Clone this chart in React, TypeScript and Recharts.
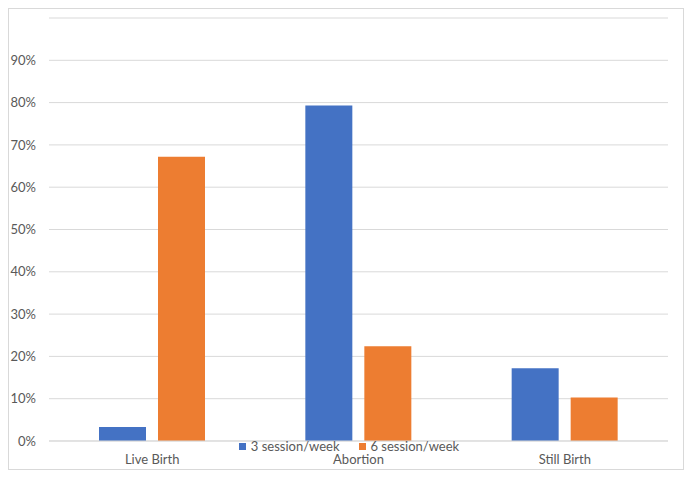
import { BarChart, Bar, XAxis, YAxis, CartesianGrid, Legend } from "recharts";

const categories = ["Live Birth", "Abortion", "Still Birth"];
const threeSessions = [0.033, 0.793, 0.172];
const sixSessions = [0.672, 0.224, 0.103];
const yTicks = [0, 0.1, 0.2, 0.3, 0.4, 0.5, 0.6, 0.7, 0.8, 0.9];

const series = [
  { key: "three", name: "3 session/week", color: "#4472C4" },
  { key: "six", name: "6 session/week", color: "#ED7D31" },
];

const data = categories.map((name, i) => ({
  name,
  three: threeSessions[i],
  six: sixSessions[i],
}));

const font = "Lato, 'Open Sans', sans-serif";

function LegendContent() {
  return (
    <div
      style={{
        display: "flex",
        justifyContent: "center",
        paddingLeft: 5,
        fontFamily: font,
        fontSize: 13,
        color: "#595959",
        gap: 19,
      }}
    >
      {series.map((s) => (
        <div key={s.key} style={{ display: "flex", alignItems: "center" }}>
          <span
            style={{
              display: "inline-block",
              width: 7,
              height: 7,
              background: s.color,
              marginRight: 5,
            }}
          />
          {s.name}
        </div>
      ))}
    </div>
  );
}

export default function App() {
  return (
    <div
      style={{
        position: "absolute",
        left: 0,
        top: 0,
        width: 693,
        height: 479,
        background: "#fff",
      }}
    >
      <div
        style={{
          position: "absolute",
          left: 8,
          top: 8,
          width: 674,
          height: 460,
          border: "1px solid #d9d9d9",
        }}
      />
      <BarChart
        width={693}
        height={479}
        data={data}
        margin={{ top: 18, right: 25, left: 9, bottom: 8 }}
        barCategoryGap={50}
        barGap={12}
        style={{ position: "absolute", left: 0, top: 0 }}
      >
        <CartesianGrid vertical={false} stroke="#d9d9d9" />
        <XAxis
          dataKey="name"
          height={30}
          axisLine={{ stroke: "#d9d9d9" }}
          tickLine={false}
          tickSize={0}
          tickMargin={14}
          tick={{ fill: "#595959", fontSize: 13, fontFamily: font }}
        />
        <YAxis
          width={40}
          domain={[0, 1]}
          ticks={yTicks}
          interval={0}
          axisLine={false}
          tickLine={false}
          tickSize={0}
          tickMargin={13}
          tickFormatter={(v: number) => `${Math.round(v * 100)}%`}
          tick={{ fill: "#595959", fontSize: 13, fontFamily: font }}
        />
        <Legend
          layout="horizontal"
          verticalAlign="middle"
          align="center"
          content={<LegendContent />}
          wrapperStyle={{ top: 438, left: 0, width: 693 }}
        />
        {series.map((s) => (
          <Bar
            key={s.key}
            dataKey={s.key}
            name={s.name}
            fill={s.color}
            isAnimationActive={false}
          />
        ))}
      </BarChart>
    </div>
  );
}
